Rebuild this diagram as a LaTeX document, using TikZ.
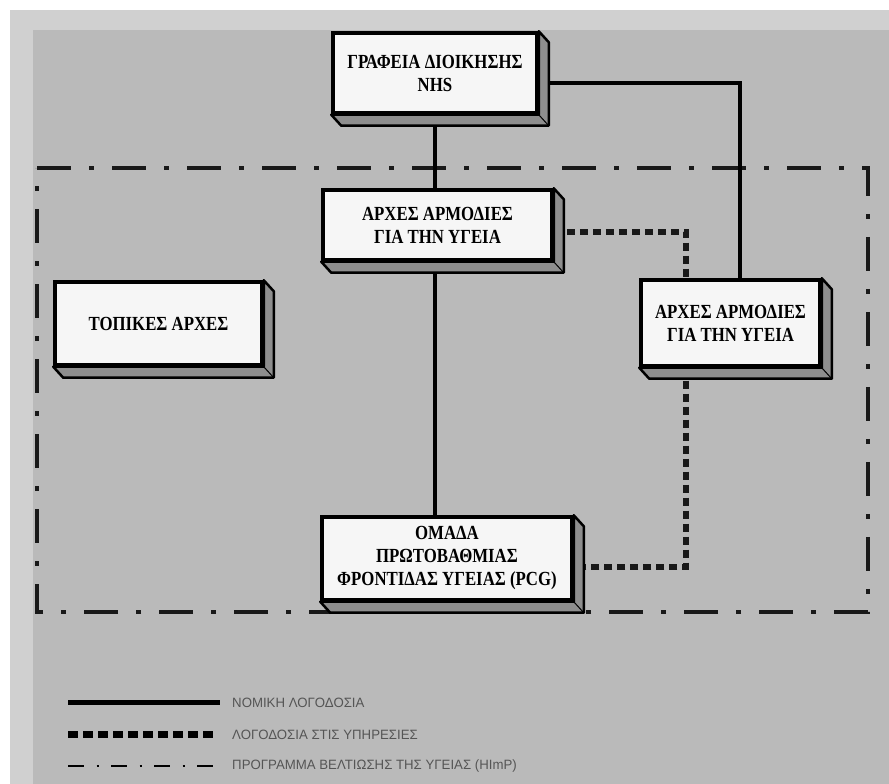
\documentclass[tikz,border=0pt]{standalone}
\usepackage{fontspec}
\setmainfont{Liberation Serif}[FakeStretch=0.84]
\newfontfamily\legfont{Liberation Sans}[FakeStretch=0.98]
\usetikzlibrary{calc}
\definecolor{bgout}{HTML}{D0D0D0}
\definecolor{bgin}{HTML}{BABABA}
\definecolor{boxfill}{HTML}{F6F6F6}
\definecolor{shadowfill}{HTML}{8E8E8E}
\definecolor{legtext}{HTML}{555555}
\pgfdeclarelayer{bg}
\pgfdeclarelayer{lines}
\pgfsetlayers{bg,lines,main}
\tikzset{
  box3d/.style={draw=black, line width=3.5pt, fill=boxfill, inner sep=0pt, align=center,
    font=\fontsize{20}{23}\selectfont\bfseries},
  solidline/.style={draw=black, line width=3.5pt},
  dotline/.style={draw=black!90, line width=5.5pt, dash pattern=on 8pt off 5pt},
  frameline/.style={draw=black!90, line width=4pt, dash pattern=on 34pt off 18pt on 5pt off 18pt},
  legsolid/.style={draw=black, line width=5pt},
  legdot/.style={draw=black, line width=7pt, dash pattern=on 10pt off 5pt},
  legdashdot/.style={draw=black, line width=2.5pt, dash pattern=on 16pt off 12.5pt on 2pt off 12.5pt},
  legtxt/.style={anchor=west, inner sep=0pt, text=legtext, font=\legfont\fontsize{13.5}{15}\selectfont},
}
\newcommand\boxdepth[1]{%
  \filldraw[fill=shadowfill, draw=black, line width=2.5pt, line join=round]
    (#1.north east) -- ++(10,-11) -- ($(#1.south east)+(10,-11)$) -- ($(#1.south west)+(10,-11)$)
    -- (#1.south west) -- (#1.south east) -- cycle;
  \draw[black, line width=1pt] (#1.south east) -- ++(10,-11);}
\begin{document}
\begin{tikzpicture}[x=1pt,y=1pt]
\useasboundingbox (0,0) rectangle (889,784);
\begin{pgfonlayer}{bg}
  \fill[white] (0,0) rectangle (889,784);
  \fill[bgout] (10,0) rectangle (889,774);
  \fill[bgin] (33,0) rectangle (889,754);
  \draw[frameline] (37,616) -- (868,616) -- (868,172) -- (37,172) -- cycle;
\end{pgfonlayer}

% boxes
\node[box3d, minimum width=204pt, minimum height=80pt] (nhs) at (435,711) {ΓΡΑΦΕΙΑ ΔΙΟΙΚΗΣΗΣ\\NHS};
\node[box3d, minimum width=229pt, minimum height=70pt] (aha) at (437.5,559) {ΑΡΧΕΣ ΑΡΜΟΔΙΕΣ\\ΓΙΑ ΤΗΝ ΥΓΕΙΑ};
\node[box3d, minimum width=179pt, minimum height=86pt] (ahb) at (730.5,461) {ΑΡΧΕΣ ΑΡΜΟΔΙΕΣ\\ΓΙΑ ΤΗΝ ΥΓΕΙΑ};
\node[box3d, minimum width=207pt, minimum height=83pt] (local) at (158.5,460.5) {ΤΟΠΙΚΕΣ ΑΡΧΕΣ};
\node[box3d, minimum width=250pt, minimum height=83pt] (pcg) at (447,225.5) {ΟΜΑΔΑ\\ΠΡΩΤΟΒΑΘΜΙΑΣ\\ΦΡΟΝΤΙΔΑΣ ΥΓΕΙΑΣ (PCG)};
\boxdepth{nhs}
\boxdepth{aha}
\boxdepth{ahb}
\boxdepth{local}
\boxdepth{pcg}

% connectors
\coordinate (nhsr) at ($(nhs.east)+(0,-10)$);
\coordinate (ahbtop1) at ($(ahb.north)+(9.5,0)$);
\coordinate (ahar) at ($(aha.east)+(0,-7)$);
\coordinate (ahbtop2) at ($(ahb.north)+(-44.5,0)$);
\coordinate (ahbbot) at ($(ahb.south)+(-44.5,0)$);
\coordinate (pcgr) at ($(pcg.east)+(0,-8.5)$);
\begin{pgfonlayer}{lines}
  \draw[solidline] (nhs.south) -- (nhs.south |- aha.north);
  \draw[solidline] (nhs.south |- aha.south) -- (nhs.south |- pcg.north);
  \draw[solidline] (nhsr) -| (ahbtop1);
  \draw[dotline] (ahar) -| (ahbtop2);
  \draw[dotline] (ahbbot) |- (pcgr);
\end{pgfonlayer}

% legend
\coordinate (l1a) at (68,81); \coordinate (l1b) at (220,81);
\coordinate (l2a) at (68,49); \coordinate (l2b) at (215,49);
\coordinate (l3a) at (68,18); \coordinate (l3b) at (213,18);
\draw[legsolid] (l1a) -- (l1b);
\draw[legdot] (l2a) -- (l2b);
\draw[legdashdot] (l3a) -- (l3b);
\node[legtxt] (t1) at (232,81) {ΝΟΜΙΚΗ ΛΟΓΟΔΟΣΙΑ};
\node[legtxt] (t2) at (232,49) {ΛΟΓΟΔΟΣΙΑ ΣΤΙΣ ΥΠΗΡΕΣΙΕΣ};
\node[legtxt] (t3) at (232,18) {ΠΡΟΓΡΑΜΜΑ ΒΕΛΤΙΩΣΗΣ ΤΗΣ ΥΓΕΙΑΣ (HImP)};
\end{tikzpicture}
\end{document}
